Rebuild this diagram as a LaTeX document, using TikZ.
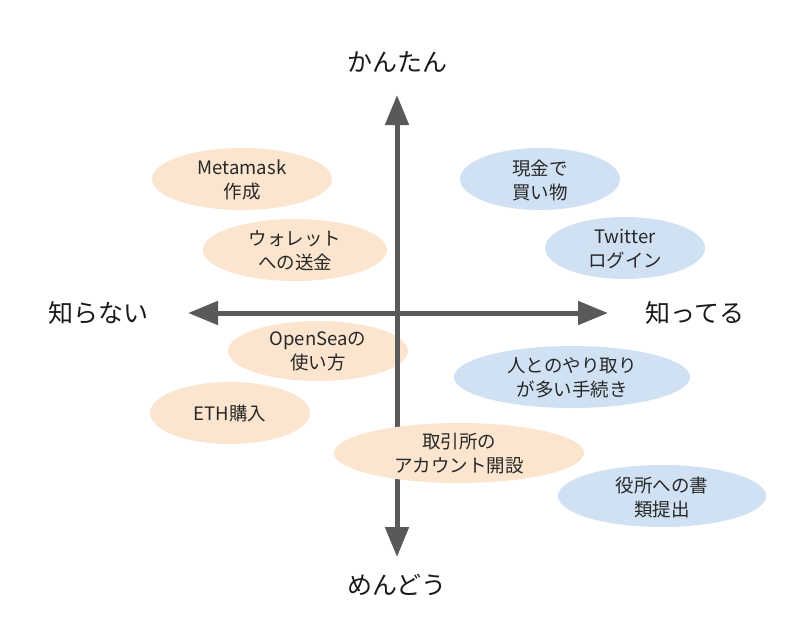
\documentclass[tikz,border=0pt]{standalone}
\usepackage{fontspec}
\setmainfont{Noto Sans CJK JP}
\usetikzlibrary{arrows.meta}
\definecolor{peach}{RGB}{252,229,206}
\definecolor{paleblue}{RGB}{207,225,242}
\definecolor{axisgray}{RGB}{89,89,89}
\definecolor{txt}{RGB}{40,40,40}
\tikzset{
  item/.style={inner sep=0pt, text=txt, align=center,
    font=\fontsize{18.5}{24}\selectfont},
  axislabel/.style={text=black!90, font=\fontsize{25}{30}\selectfont, inner sep=0pt},
  axisline/.style={draw=axisgray, line width=5pt,
    -{Triangle[length=30pt,width=23pt]}, fill=axisgray}
}
\begin{document}
\begin{tikzpicture}[x=1pt,y=-1pt]
\useasboundingbox (0,0) rectangle (800,624);
% items behind axes
\path[fill=peach] (318,351) ellipse [x radius=90, y radius=30];
\node[item] (opensea) at (318,351) {OpenSeaの\\使い方};
% axes
\coordinate (c) at (397,313);
\coordinate (l) at (188,313);
\coordinate (r) at (608,313);
\coordinate (t) at (397,95);
\coordinate (b) at (397,557);
\draw[axisline] (c) -- (l);
\draw[axisline] (c) -- (r);
\draw[axisline] (c) -- (t);
\draw[axisline] (c) -- (b);
% axis labels
\node[axislabel] (easy) at (397,62) {かんたん};
\node[axislabel] (hard) at (397,585) {めんどう};
\node[axislabel] (unknown) at (98,313) {知らない};
\node[axislabel] (known) at (695,313) {知ってる};
% warm items
\path[fill=peach] (242,179) ellipse [x radius=90, y radius=31];
\node[item] (meta) at (242,180) {Metamask\\作成};
\path[fill=peach] (295,250) ellipse [x radius=92, y radius=31];
\node[item] (wallet) at (295,251) {ウォレット\\への送金};
\path[fill=peach] (230,413) ellipse [x radius=80, y radius=31];
\node[item] (eth) at (230,413) {ETH購入};
\path[fill=peach] (459,453) ellipse [x radius=125, y radius=30];
\node[item] (exch) at (459,454) {取引所の\\アカウント開設};
% cool items
\path[fill=paleblue] (540,179) ellipse [x radius=80, y radius=31];
\node[item] (cash) at (540,180) {現金で\\買い物};
\path[fill=paleblue] (625,248) ellipse [x radius=80, y radius=31];
\node[item] (tw) at (625,249) {Twitter\\ログイン};
\path[fill=paleblue] (572,377) ellipse [x radius=118, y radius=31];
\node[item] (people) at (572,378) {人とのやり取り\\が多い手続き};
\path[fill=paleblue] (662,496) ellipse [x radius=104, y radius=31];
\node[item] (office) at (662,497) {役所への書\\類提出};
\end{tikzpicture}
\end{document}
